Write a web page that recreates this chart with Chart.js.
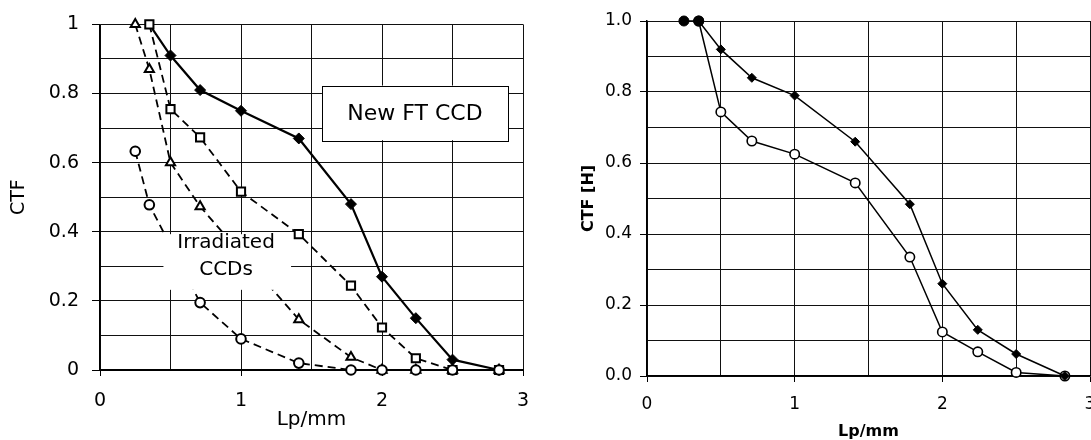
<!DOCTYPE html>
<html>
<head>
<meta charset="utf-8">
<script src="https://cdn.jsdelivr.net/npm/chart.js@4"></script>
<style>
  html, body { margin: 0; padding: 0; background: #fff; }
  body { width: 1091px; height: 440px; overflow: hidden; position: relative; }
  canvas { position: absolute; top: 0; }
  #ctfLeft { left: 0; }
  #ctfRight { left: 545px; }
</style>
</head>
<body>
<canvas id="ctfLeft" width="545" height="440"></canvas>
<canvas id="ctfRight" width="600" height="440"></canvas>
<script>
"use strict";

// spatial frequencies (Lp/mm) used for both panels
const lpLeft = [0.25, 0.35, 0.5, 0.71, 1.0, 1.41, 1.78, 2.0, 2.24, 2.5, 2.83];
const lpRight = [0.25, 0.35, 0.5, 0.71, 1.0, 1.41, 1.78, 2.0, 2.24, 2.5, 2.83];

// left panel: new FT CCD and the three irradiated CCDs (null = no point)
const newFtCtf = [null, 1.0, 0.91, 0.81, 0.75, 0.67, 0.48, 0.27, 0.15, 0.03, 0.0];
const irrSquareCtf = [null, 1.0, 0.755, 0.673, 0.516, 0.393, 0.244, 0.123, 0.034, 0.0, 0.0];
const irrTriangleCtf = [1.0, 0.87, 0.6, 0.473, null, 0.146, 0.037, 0.0, 0.0, 0.0, 0.0];
const irrCircleCtf = [0.633, 0.478, null, 0.195, 0.09, 0.02, 0.0, 0.0, 0.0, 0.0, 0.0];

// right panel: CTF [H]
const ctfFilled = [1.0, 1.0, 0.92, 0.84, 0.79, 0.66, 0.484, 0.26, 0.13, 0.062, 0.0];
const ctfOpen = [null, 1.0, 0.744, 0.662, 0.625, 0.544, 0.335, 0.124, 0.068, 0.01, 0.0];

const leftYTicks = ["0", "0.2", "0.4", "0.6", "0.8", "1"];
const rightYTicks = ["0.0", "0.2", "0.4", "0.6", "0.8", "1.0"];
const xTickLabels = ["0", "1", "2", "3"];

const FONT = "'DejaVu Sans', 'Liberation Sans', Arial, sans-serif";

function toPoints(xs, ys) {
    return xs.map((x, i) => ({ x: x, y: ys[i] })).filter(p => p.y !== null);
}

function yLabel(list) {
    return function(value) {
        const tenth = Math.round(value * 10);
        return tenth % 2 === 0 ? list[tenth / 2] : "";
    };
}

function xLabel(value) {
    const half = Math.round(value * 2);
    return half % 2 === 0 ? xTickLabels[half / 2] : "";
}

function majorTick(step) {
    return function(ctx) {
        if (!ctx.tick) return "#000";
        const n = Math.round(ctx.tick.value / step);
        return n % 2 === 0 ? "#000" : "rgba(0,0,0,0)";
    };
}

function fixWidth(w) {
    return function(scale) { scale.width = w; };
}
function fixHeight(h) {
    return function(scale) { scale.height = h; };
}

// boxes and labels of the left panel
const leftNotes = {
    id: "leftNotes",
    afterDatasetsDraw(chart) {
        const c = chart.ctx;
        const xs = chart.scales.x;
        const ys = chart.scales.y;
        c.save();

        // "Irradiated CCDs" sits on a white patch
        const ix0 = xs.getPixelForValue(0.45), ix1 = xs.getPixelForValue(1.355);
        const iy0 = ys.getPixelForValue(0.393), iy1 = ys.getPixelForValue(0.232);
        c.fillStyle = "#fff";
        c.fillRect(ix0, iy0, ix1 - ix0, iy1 - iy0);
        c.fillStyle = "#000";
        c.font = "20px " + FONT;
        c.textAlign = "center";
        c.textBaseline = "middle";
        const cx = xs.getPixelForValue(0.894);
        c.fillText("Irradiated", cx, ys.getPixelForValue(0.367));
        c.fillText("CCDs", cx, ys.getPixelForValue(0.29));

        // framed "New FT CCD"
        const bx0 = xs.getPixelForValue(1.574), bx1 = xs.getPixelForValue(2.894);
        const by0 = ys.getPixelForValue(0.823), by1 = ys.getPixelForValue(0.665);
        c.fillStyle = "#fff";
        c.fillRect(bx0, by0, bx1 - bx0, by1 - by0);
        c.strokeStyle = "#000";
        c.lineWidth = 1;
        c.strokeRect(Math.round(bx0) + 0.5, Math.round(by0) + 0.5, Math.round(bx1 - bx0), Math.round(by1 - by0));
        c.fillStyle = "#000";
        c.font = "22px " + FONT;
        c.fillText("New FT CCD", (bx0 + bx1) / 2, (by0 + by1) / 2 + 1);
        c.restore();
    }
};

const dashed = [8, 5];

new Chart(document.getElementById("ctfLeft"), {
    type: "line",
    data: {
        datasets: [
            {
                data: toPoints(lpLeft, irrCircleCtf),
                borderColor: "#000",
                borderWidth: 1.8,
                borderDash: dashed,
                pointStyle: "circle",
                pointRadius: 4.8,
                pointBorderWidth: 2,
                pointBackgroundColor: "#fff",
                pointBorderColor: "#000",
                clip: false
            },
            {
                data: toPoints(lpLeft, irrTriangleCtf),
                borderColor: "#000",
                borderWidth: 1.8,
                borderDash: dashed,
                pointStyle: "triangle",
                pointRadius: 5.3,
                pointBorderWidth: 2,
                pointBackgroundColor: "#fff",
                pointBorderColor: "#000",
                clip: false
            },
            {
                data: toPoints(lpLeft, irrSquareCtf),
                borderColor: "#000",
                borderWidth: 1.8,
                borderDash: dashed,
                pointStyle: "rect",
                pointRadius: 5.8,
                pointBorderWidth: 2,
                pointBackgroundColor: "#fff",
                pointBorderColor: "#000",
                clip: false
            },
            {
                data: toPoints(lpLeft, newFtCtf),
                borderColor: "#000",
                borderWidth: 2.2,
                pointStyle: "rectRot",
                pointRadius: ctx => (ctx.dataIndex === 0 ? 0 : 5.5),
                pointBackgroundColor: "#000",
                pointBorderColor: "#000",
                pointBorderWidth: 1,
                clip: false
            }
        ]
    },
    options: {
        responsive: false,
        animation: false,
        devicePixelRatio: 1,
        layout: { padding: { left: 0, top: 21, right: 22, bottom: 0 } },
        plugins: { legend: { display: false }, tooltip: { enabled: false } },
        scales: {
            x: {
                type: "linear",
                min: 0,
                max: 3,
                afterFit: fixHeight(70),
                ticks: {
                    stepSize: 0.5,
                    autoSkip: false,
                    maxRotation: 0,
                    padding: 14,
                    color: "#000",
                    font: { family: FONT, size: 19 },
                    callback: xLabel
                },
                grid: { color: "#111", lineWidth: 1, tickLength: 6, tickColor: majorTick(0.5) },
                border: { color: "#000", width: 2 },
                title: {
                    display: true,
                    text: "Lp/mm",
                    color: "#000",
                    font: { family: FONT, size: 20 },
                    padding: { top: 0, bottom: 8 }
                }
            },
            y: {
                type: "linear",
                min: 0,
                max: 1,
                afterFit: fixWidth(100),
                ticks: {
                    stepSize: 0.1,
                    autoSkip: false,
                    padding: 13,
                    color: "#000",
                    font: { family: FONT, size: 19 },
                    callback: yLabel(leftYTicks)
                },
                grid: { color: "#111", lineWidth: 1, tickLength: 8, tickColor: majorTick(0.1) },
                border: { color: "#000", width: 1.5 },
                title: {
                    display: true,
                    text: "CTF",
                    color: "#000",
                    font: { family: FONT, size: 19 },
                    padding: { top: 8, bottom: 0 }
                }
            }
        }
    },
    plugins: [leftNotes]
});

new Chart(document.getElementById("ctfRight"), {
    type: "line",
    data: {
        datasets: [
            {
                data: toPoints(lpRight, ctfFilled),
                borderColor: "#000",
                borderWidth: 1.5,
                pointStyle: ctx => (ctx.dataIndex < 2 ? "circle" : "rectRot"),
                pointRadius: ctx => (ctx.dataIndex < 2 ? 5 : 4.5),
                pointBackgroundColor: "#000",
                pointBorderColor: "#000",
                pointBorderWidth: 1,
                clip: false
            },
            {
                data: toPoints(lpRight, ctfOpen),
                borderColor: "#000",
                borderWidth: 1.5,
                pointStyle: "circle",
                pointRadius: 4.7,
                pointBackgroundColor: "#fff",
                pointBorderColor: "#000",
                pointBorderWidth: 1.6,
                clip: false
            }
        ]
    },
    options: {
        responsive: false,
        animation: false,
        devicePixelRatio: 1,
        layout: { padding: { left: 0, top: 21, right: 55, bottom: 0 } },
        plugins: { legend: { display: false }, tooltip: { enabled: false } },
        scales: {
            x: {
                type: "linear",
                min: 0,
                max: 3,
                afterFit: fixHeight(64),
                ticks: {
                    stepSize: 0.5,
                    autoSkip: false,
                    maxRotation: 0,
                    padding: 12,
                    color: "#000",
                    font: { family: FONT, size: 17 },
                    callback: xLabel
                },
                grid: { color: "#111", lineWidth: 1, tickLength: 6, tickColor: majorTick(0.5) },
                border: { color: "#000", width: 1.5 },
                title: {
                    display: true,
                    text: "Lp/mm",
                    color: "#000",
                    font: { family: FONT, size: 16, weight: "bold", lineHeight: 1 },
                    padding: { top: 0, bottom: 0 }
                }
            },
            y: {
                type: "linear",
                min: 0,
                max: 1,
                afterFit: fixWidth(102),
                ticks: {
                    stepSize: 0.1,
                    autoSkip: false,
                    padding: 8,
                    color: "#000",
                    font: { family: FONT, size: 17 },
                    callback: yLabel(rightYTicks)
                },
                grid: { color: "#111", lineWidth: 1, tickLength: 7, tickColor: majorTick(0.1) },
                border: { color: "#000", width: 1.5 },
                title: {
                    display: true,
                    text: "CTF [H]",
                    color: "#000",
                    font: { family: FONT, size: 16, weight: "bold" },
                    padding: { top: 34, bottom: 0 }
                }
            }
        }
    }
});
</script>
</body>
</html>
